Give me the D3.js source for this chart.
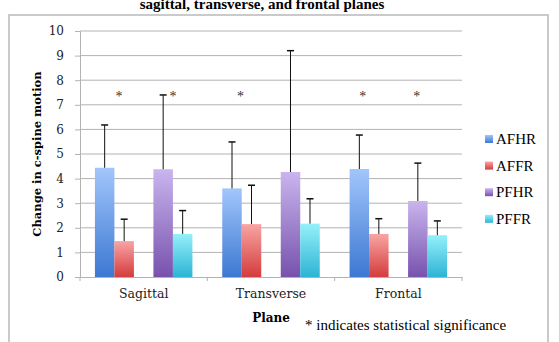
<!DOCTYPE html>
<html>
<head>
<meta charset="utf-8">
<script src="https://cdn.jsdelivr.net/npm/d3@7"></script>
<style>
  body { margin: 0; background: #fff; }
  svg { display: block; }
</style>
</head>
<body>
<svg width="559" height="342"></svg>
<script>
// data
var planes = ['Sagittal', 'Transverse', 'Frontal'];
var series = ['AFHR', 'AFFR', 'PFHR', 'PFFR'];
var slots = ['AFHR', 'AFFR', 'gap', 'PFHR', 'PFFR'];
var means = {
  AFHR: [4.44, 3.60, 4.39],
  AFFR: [1.46, 2.15, 1.75],
  PFHR: [4.38, 4.27, 3.09],
  PFFR: [1.75, 2.17, 1.70]
};
var errTops = {
  AFHR: [6.18, 5.49, 5.77],
  AFFR: [2.35, 3.73, 2.37],
  PFHR: [7.40, 9.20, 4.63],
  PFFR: [2.70, 3.18, 2.28]
};
var yTicks = [0, 1, 2, 3, 4, 5, 6, 7, 8, 9, 10];
// asterisks: plane + position in bar-slot units from the group's left edge
var starPlanes = ['Sagittal', 'Sagittal', 'Transverse', 'Frontal', 'Frontal'];
var starSlots = [1.23, 4.0, 0.94, 0.67, 3.44];
var starLevel = 7.5;

var colors = {
  AFHR: ['#a2c6fb', '#3c78d2'],
  AFFR: ['#f9a4a4', '#d43c3c'],
  PFHR: ['#cab5ee', '#7752ad'],
  PFFR: ['#95f0fa', '#2db4d4']
};

var svg = d3.select('svg');

// gradients
var defs = svg.append('defs');
series.forEach(function(s){
  var g = defs.append('linearGradient')
    .attr('id', 'g-' + s)
    .attr('x1', 0).attr('y1', 0).attr('x2', 0).attr('y2', 1);
  g.append('stop').attr('offset', '0%').attr('stop-color', colors[s][0]);
  g.append('stop').attr('offset', '100%').attr('stop-color', colors[s][1]);
});

// outer frame
svg.append('rect')
  .attr('x', 9).attr('y', 15)
  .attr('width', 539).attr('height', 340)
  .attr('fill', 'none')
  .attr('stroke', '#b9b9b9')
  .attr('stroke-width', 1.5);

// title (first line is cut off above the picture)
svg.append('text')
  .attr('x', 262).attr('y', 9)
  .attr('text-anchor', 'middle')
  .style('font-family', '"Liberation Serif", serif')
  .style('font-weight', 'bold')
  .style('font-size', '15px')
  .text('sagittal, transverse, and frontal planes');

var plotLeft = 80, plotRight = 462, plotTop = 31, plotBottom = 277;

var xScale = d3.scaleBand().domain(planes).range([plotLeft, plotRight]);
var slotW = 19.5;
var pad = (xScale.bandwidth() - slotW * slots.length) / 2;
var xInner = d3.scaleBand().domain(slots)
  .range([pad, xScale.bandwidth() - pad]);
var slotPos = d3.scaleLinear().domain([0, slots.length])
  .range([pad, xScale.bandwidth() - pad]);
var yScale = d3.scaleLinear().domain([0, 10]).range([plotBottom, plotTop]);

// gridlines
svg.append('g')
  .selectAll('line')
  .data(yTicks.slice(1))
  .enter()
  .append('line')
  .attr('x1', plotLeft).attr('x2', plotRight)
  .attr('y1', function(d){ return yScale(d); })
  .attr('y2', function(d){ return yScale(d); })
  .attr('stroke', '#b3b3b3')
  .attr('stroke-width', 1);

// y axis
var yAxis = d3.axisLeft(yScale).tickValues(yTicks).tickSize(5).tickPadding(11);
var gy = svg.append('g')
  .attr('transform', 'translate(' + plotLeft + ',0)')
  .call(yAxis);
gy.select('.domain').attr('stroke', '#b3b3b3');
gy.selectAll('.tick line').attr('stroke', '#b3b3b3');
gy.selectAll('text')
  .style('font-family', '"DejaVu Serif", serif')
  .style('font-size', '12px')
  .attr('fill', '#222');

// x axis
var xAxis = d3.axisBottom(xScale).tickSize(0).tickPadding(12);
var gx = svg.append('g')
  .attr('transform', 'translate(0,' + plotBottom + ')')
  .call(xAxis);
gx.select('.domain').attr('stroke', '#b3b3b3');
gx.selectAll('text')
  .style('font-family', '"DejaVu Serif", serif')
  .style('font-size', '12.5px')
  .attr('fill', '#222');
// category separator ticks
gx.append('g')
  .selectAll('line')
  .data(planes.concat(['end']))
  .enter()
  .append('line')
  .attr('x1', function(d, i){ return plotLeft + i * xScale.step(); })
  .attr('x2', function(d, i){ return plotLeft + i * xScale.step(); })
  .attr('y1', 0).attr('y2', 4)
  .attr('stroke', '#b3b3b3');

// bars
var groups = svg.append('g')
  .selectAll('g')
  .data(planes)
  .enter()
  .append('g')
  .attr('transform', function(d){ return 'translate(' + xScale(d) + ',0)'; });

function rows(p, i){
  return series.map(function(s){ return { key: s, v: means[s][i], e: errTops[s][i] }; });
}

groups.selectAll('rect')
  .data(rows)
  .enter()
  .append('rect')
  .attr('x', function(d){ return xInner(d.key); })
  .attr('y', function(d){ return yScale(d.v); })
  .attr('width', xInner.bandwidth())
  .attr('height', function(d){ return yScale(0) - yScale(d.v); })
  .attr('fill', function(d){ return 'url(#g-' + d.key + ')'; });

// error bars
var errs = groups.selectAll('g.err')
  .data(rows)
  .enter()
  .append('g')
  .attr('class', 'err')
  .attr('stroke', '#111')
  .attr('stroke-width', 1);
errs.append('line')
  .attr('x1', function(d){ return xInner(d.key) + xInner.bandwidth() / 2; })
  .attr('x2', function(d){ return xInner(d.key) + xInner.bandwidth() / 2; })
  .attr('y1', function(d){ return yScale(d.v); })
  .attr('y2', function(d){ return yScale(d.e); });
errs.append('line')
  .attr('x1', function(d){ return xInner(d.key) + xInner.bandwidth() / 2 - 3.5; })
  .attr('x2', function(d){ return xInner(d.key) + xInner.bandwidth() / 2 + 3.5; })
  .attr('y1', function(d){ return yScale(d.e); })
  .attr('y2', function(d){ return yScale(d.e); })
  .attr('stroke-width', 1.5);

// asterisks
svg.append('g')
  .selectAll('text')
  .data(starPlanes)
  .enter()
  .append('text')
  .attr('x', function(d, i){ return xScale(d) + slotPos(starSlots[i]); })
  .attr('y', yScale(starLevel))
  .attr('dy', '0.6em')
  .attr('text-anchor', 'middle')
  .style('font-family', '"Liberation Serif", serif')
  .style('font-size', '14px')
  .attr('fill', '#333')
  .text('*');

// axis titles
svg.append('text')
  .attr('transform', 'translate(41,' + ((plotTop + plotBottom) / 2) + ') rotate(-90)')
  .attr('text-anchor', 'middle')
  .style('font-family', '"DejaVu Serif", serif')
  .style('font-weight', 'bold')
  .style('font-size', '11.5px')
  .text('Change in c-spine motion');

svg.append('text')
  .attr('x', (plotLeft + plotRight) / 2).attr('y', 322)
  .attr('text-anchor', 'middle')
  .style('font-family', '"DejaVu Serif", serif')
  .style('font-weight', 'bold')
  .style('font-size', '12px')
  .text('Plane');

svg.append('text')
  .attr('x', 305).attr('y', 330)
  .style('font-family', '"Liberation Serif", serif')
  .style('font-size', '15px')
  .text('* indicates statistical significance');

// legend
var legend = svg.append('g')
  .selectAll('g')
  .data(series)
  .enter()
  .append('g')
  .attr('transform', function(d, i){ return 'translate(485,' + (139 + i * 26.6) + ')'; });
legend.append('rect')
  .attr('x', 0).attr('y', -4)
  .attr('width', 8).attr('height', 8)
  .attr('fill', function(d){ return 'url(#g-' + d + ')'; });
legend.append('text')
  .attr('x', 11).attr('y', 0)
  .attr('dy', '0.35em')
  .style('font-family', '"Liberation Serif", serif')
  .style('font-size', '15px')
  .text(function(d){ return d; });
</script>
</body>
</html>
